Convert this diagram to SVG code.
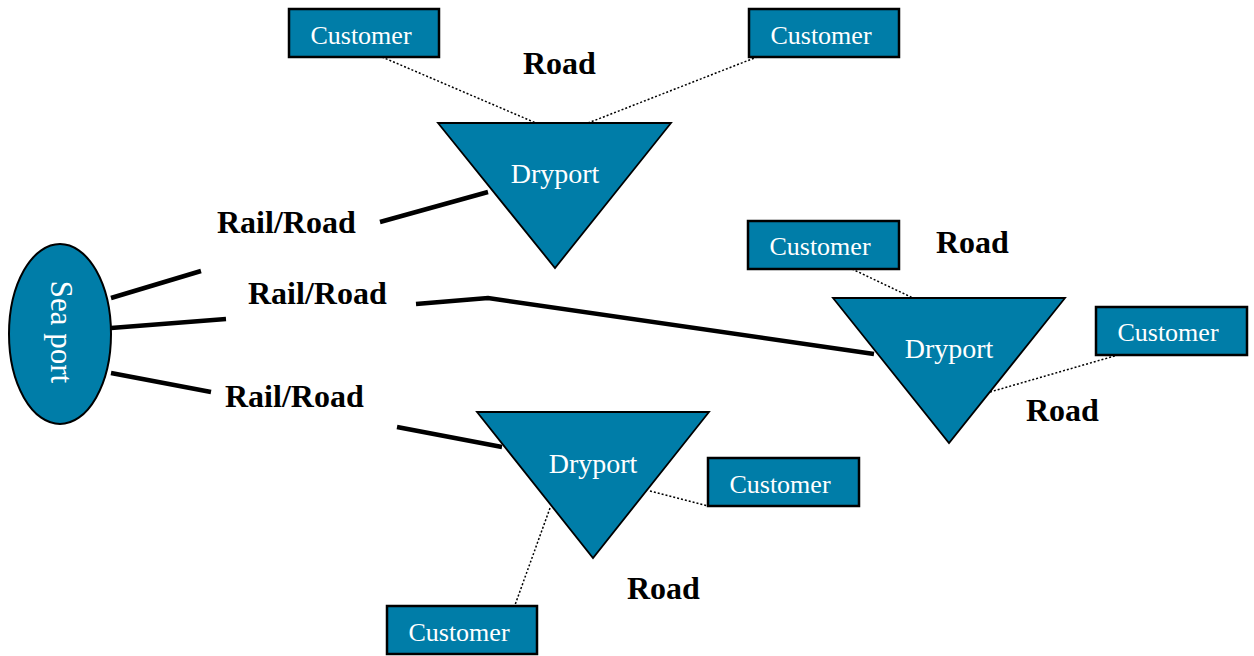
<svg xmlns="http://www.w3.org/2000/svg" width="1254" height="656" viewBox="0 0 1254 656">
<style>
.box{fill:#007DA8;stroke:#000;stroke-width:2.5}
.tri{fill:#007DA8;stroke:#000;stroke-width:1.8;stroke-linejoin:miter}
.ctext{font-family:"Liberation Serif",serif;font-size:26px;fill:#fff;text-anchor:middle}
.dtext{font-family:"Liberation Serif",serif;font-size:28px;fill:#fff;text-anchor:middle}
.lbl{font-family:"Liberation Serif",serif;font-size:32px;font-weight:bold;fill:#000}
.thick{stroke:#000;stroke-width:4.5;fill:none}
.dot{stroke:#000;stroke-width:1.5;stroke-dasharray:2,2;fill:none}
</style>
<rect width="1254" height="656" fill="#fff"/>
<g id="connectors">
<line class="thick" x1="111" y1="298" x2="201" y2="271"/>
<line class="thick" x1="111" y1="328" x2="226" y2="319"/>
<line class="thick" x1="111" y1="373" x2="211" y2="392"/>
<line class="thick" x1="380" y1="222" x2="488" y2="192"/>
<polyline class="thick" points="416,304 488,298 874,354"/>
<line class="thick" x1="397" y1="427" x2="502" y2="447"/>
<line class="dot" x1="382" y1="57" x2="536" y2="123"/>
<line class="dot" x1="588" y1="123" x2="757" y2="57"/>
<line class="dot" x1="852" y1="269" x2="913" y2="298"/>
<line class="dot" x1="990" y1="392" x2="1118" y2="355"/>
<line class="dot" x1="650" y1="491" x2="708" y2="506"/>
<line class="dot" x1="550" y1="508" x2="515" y2="605"/>
</g>
<g id="seaport">
<ellipse cx="60" cy="334" rx="51" ry="90" fill="#007DA8" stroke="#000" stroke-width="2"/>
<text transform="translate(51,332) rotate(90)" font-family="Liberation Serif,serif" font-size="31" fill="#fff" text-anchor="middle">Sea port</text>
</g>
<g id="dryport1">
<polygon class="tri" points="438,123 671,123 555,268"/>
<text class="dtext" x="555" y="183">Dryport</text>
</g>
<g id="dryport2">
<polygon class="tri" points="833,298 1065,298 949,443"/>
<text class="dtext" x="949" y="358">Dryport</text>
</g>
<g id="dryport3">
<polygon class="tri" points="477,412 709,412 593,558"/>
<text class="dtext" x="593" y="473">Dryport</text>
</g>
<g id="customer1"><rect class="box" x="289" y="9" width="150" height="48"/><text class="ctext" x="361" y="44">Customer</text></g>
<g id="customer2"><rect class="box" x="749" y="9" width="150" height="48"/><text class="ctext" x="821" y="44">Customer</text></g>
<g id="customer3"><rect class="box" x="748" y="221" width="151" height="48"/><text class="ctext" x="820" y="255">Customer</text></g>
<g id="customer4"><rect class="box" x="1096" y="307" width="151" height="48"/><text class="ctext" x="1168" y="341">Customer</text></g>
<g id="customer5"><rect class="box" x="708" y="458" width="151" height="48"/><text class="ctext" x="780" y="493">Customer</text></g>
<g id="customer6"><rect class="box" x="387" y="606" width="150" height="48"/><text class="ctext" x="459" y="641">Customer</text></g>
<g id="labels">
<text class="lbl" x="523" y="74">Road</text>
<text class="lbl" x="217" y="233">Rail/Road</text>
<text class="lbl" x="248" y="304">Rail/Road</text>
<text class="lbl" x="225" y="407">Rail/Road</text>
<text class="lbl" x="936" y="253">Road</text>
<text class="lbl" x="1026" y="421">Road</text>
<text class="lbl" x="627" y="599">Road</text>
</g>
</svg>
